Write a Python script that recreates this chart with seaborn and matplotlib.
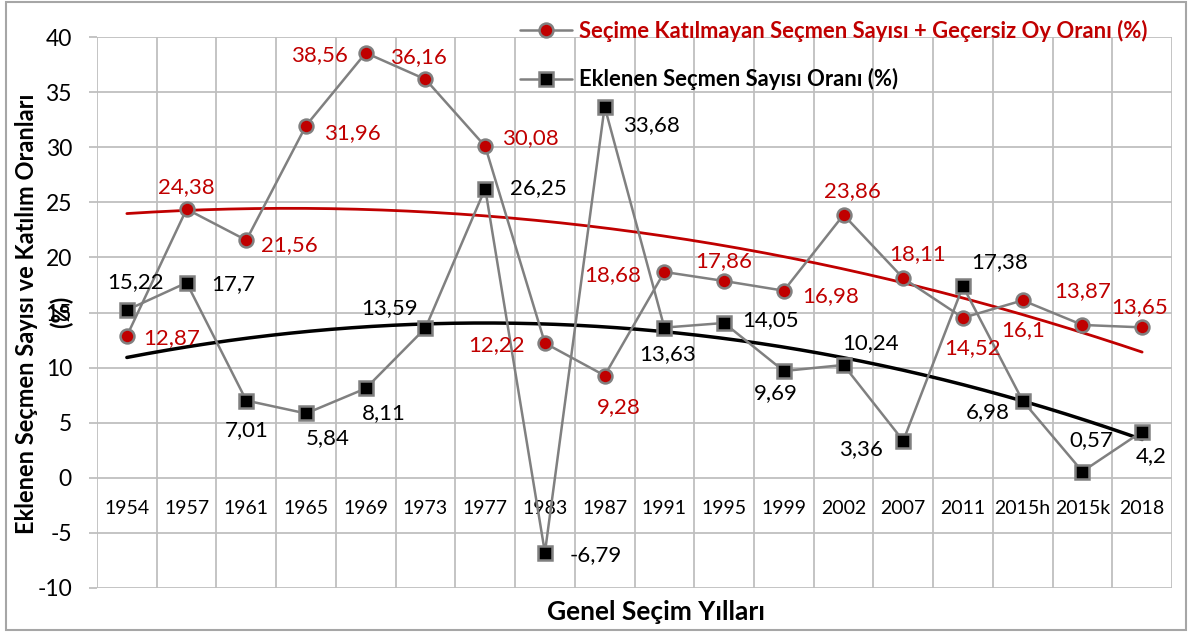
import matplotlib.pyplot as plt
import seaborn as sns
import numpy as np
import pandas as pd
from matplotlib.lines import Line2D
from matplotlib.patches import Rectangle

years = ["1954", "1957", "1961", "1965", "1969", "1973", "1977", "1983", "1987",
         "1991", "1995", "1999", "2002", "2007", "2011", "2015h", "2015k", "2018"]
katilmayan = [12.87, 24.38, 21.56, 31.96, 38.56, 36.16, 30.08, 12.22, 9.28,
              18.68, 17.86, 16.98, 23.86, 18.11, 14.52, 16.1, 13.87, 13.65]
eklenen = [15.22, 17.7, 7.01, 5.84, 8.11, 13.59, 26.25, -6.79, 33.68,
           13.63, 14.05, 9.69, 10.24, 3.36, 17.38, 6.98, 0.57, 4.2]

red_name = "Seçime Katılmayan Seçmen Sayısı + Geçersiz Oy Oranı (%)"
black_name = "Eklenen Seçmen Sayısı Oranı (%)"

# label offsets in pixels (dx, dy) for each point
red_off = [(45, -2), (0, 22), (43, -5), (46, -7), (-46, -2), (-7, 22), (45, 8),
           (-48, -2), (14, -32), (-52, -3), (0, 20), (47, -5), (9, 24), (14, 24),
           (10, -30), (0, -30), (0, 34), (-3, 20)]
black_off = [(9, 28), (47, -1), (0, -30), (22, -25), (18, -25), (-36, 20), (53, 0),
             (51, -2), (47, -18), (3, -26), (46, 3), (-8, -22), (27, 22), (-42, -8),
             (37, 24), (-35, -11), (9, 31), (9, -25)]

RED = "#C00000"
GRAY = "#808080"

sns.set_theme(style="white")
plt.rcParams["font.family"] = ["Lato", "DejaVu Sans"]
plt.rcParams["axes.unicode_minus"] = False
plt.rcParams["text.color"] = "black"
plt.rcParams["xtick.color"] = "black"
plt.rcParams["ytick.color"] = "black"
plt.rcParams["axes.labelcolor"] = "black"

df = pd.DataFrame({"pos": np.arange(len(years)), "year": years,
                   "katilmayan": katilmayan, "eklenen": eklenen})

fig = plt.figure(figsize=(11.92, 6.34), dpi=100)
ax = fig.add_axes([97 / 1192, 46 / 634, 1075 / 1192, 551 / 634])

# polynomial trendlines (order 2)
xs = np.linspace(0, len(years) - 1, 200)
for col, c, lw in [("katilmayan", RED, 2), ("eklenen", "black", 2.5)]:
    coef = np.polyfit(df["pos"], df[col], 2)
    ax.plot(xs, np.polyval(coef, xs), color=c, lw=lw, zorder=2)

sns.lineplot(data=df, x="pos", y="katilmayan", ax=ax, color=GRAY, lw=1.8,
             marker="o", markersize=10, markerfacecolor=RED, markeredgecolor=GRAY,
             markeredgewidth=1.8, zorder=3)
sns.lineplot(data=df, x="pos", y="eklenen", ax=ax, color=GRAY, lw=1.8,
             marker="s", markersize=10, markerfacecolor="black", markeredgecolor=GRAY,
             markeredgewidth=1.8, zorder=3)

for i, v in enumerate(katilmayan):
    ax.annotate(f"{v:g}".replace(".", ","), (i, v), xytext=red_off[i],
                textcoords="offset pixels", ha="center", va="center",
                color=RED, fontsize=16, zorder=4)
for i, v in enumerate(eklenen):
    ax.annotate(f"{v:g}".replace(".", ","), (i, v), xytext=black_off[i],
                textcoords="offset pixels", ha="center", va="center",
                color="black", fontsize=16, zorder=4)

ax.set_xlim(-0.5, len(years) - 0.5)
ax.set_ylim(-10, 40)
ax.set_yticks(range(-10, 41, 5))
ax.set_xticks(range(len(years)))
ax.set_xticklabels(years, fontsize=14)
ax.set_xticks(np.arange(-0.5, len(years), 1), minor=True)
ax.grid(False)
ax.grid(True, axis="y", which="major", color="#BFBFBF", lw=1.3)
ax.grid(True, axis="x", which="minor", color="#BFBFBF", lw=1.3)
for s in ax.spines.values():
    s.set_visible(False)
ax.spines["bottom"].set_position(("data", 0))
ax.tick_params(axis="x", which="both", length=0, pad=16, labelsize=14)
ax.tick_params(axis="y", left=True, length=6, width=1.3, color="#BFBFBF",
               pad=12, labelsize=16.5)
ax.set_axisbelow(True)

ax.set_xlabel("Genel Seçim Yılları", fontsize=19, fontweight="bold", labelpad=0)
ax.xaxis.set_label_coords(0.52, -0.022)
ax.set_ylabel("")
fig.text(27 / 1192, 1 - 314 / 634, "Eklenen Seçmen Sayısı ve Katılım Oranları",
         rotation=90, ha="center", va="center", fontsize=17, fontweight="bold")
fig.text(61 / 1192, 1 - 312 / 634, "(%)", rotation=90, ha="center", va="center",
         fontsize=17, fontweight="bold")

handles = [
    Line2D([], [], color=GRAY, lw=1.8, marker="o", markersize=10,
           markerfacecolor=RED, markeredgecolor=GRAY, markeredgewidth=1.8),
    Line2D([], [], color=GRAY, lw=1.8, marker="s", markersize=10,
           markerfacecolor="black", markeredgecolor=GRAY, markeredgewidth=1.8),
]
leg = fig.legend(handles, [red_name, black_name], loc="upper left",
                 bbox_to_anchor=(500 / 1192, 1 - 0 / 634), frameon=False,
                 prop={"weight": "bold", "size": 15.8}, labelspacing=1.2,
                 handlelength=2.4, handletextpad=0.3)
leg.get_texts()[0].set_color(RED)

fig.patches.append(Rectangle((6 / 1192, 4 / 634), 1180 / 1192, 628 / 634,
                             transform=fig.transFigure, fill=False,
                             edgecolor="#A6A6A6", lw=1.5))

fig.savefig("out.png", dpi=100)
